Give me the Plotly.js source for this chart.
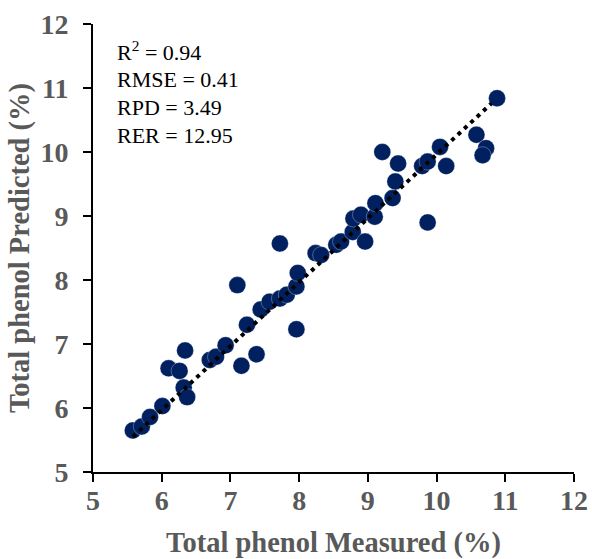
<!DOCTYPE html>
<html>
<head>
<meta charset="utf-8">
<script src="https://cdn.plot.ly/plotly-3.0.1.min.js"></script>
<style>
  html, body { margin: 0; padding: 0; background: #fff; }
  #chart { width: 592px; height: 559px; }
</style>
</head>
<body>
<div id="chart"></div>
<script>
// Measured (x) and predicted (y) total phenol (%)
const measured = [
  5.58, 5.71, 5.83, 6.01, 6.10, 6.26, 6.34, 6.32, 6.37, 6.70,
  6.79, 6.93, 7.10, 7.16, 7.24, 7.38, 7.44, 7.57, 7.72, 7.82,
  7.96, 7.98, 7.96, 7.72, 8.24, 8.32, 8.54, 8.61, 8.78, 8.79,
  8.90, 8.96, 9.10, 9.11, 9.36, 9.40, 9.44, 9.21, 9.79, 9.87,
  9.87, 10.05, 10.14, 10.58, 10.72, 10.67, 10.88
];
const predicted = [
  5.65, 5.71, 5.86, 6.03, 6.62, 6.58, 6.90, 6.32, 6.17, 6.75,
  6.80, 6.98, 7.92, 6.66, 7.30, 6.84, 7.54, 7.66, 7.71, 7.77,
  7.90, 8.11, 7.23, 8.57, 8.42, 8.39, 8.55, 8.60, 8.75, 8.96,
  9.02, 8.60, 8.99, 9.20, 9.28, 9.54, 9.82, 10.00, 9.78, 9.85,
  8.90, 10.08, 9.78, 10.27, 10.06, 9.95, 10.84
];
// Linear trendline end points
const trendX = [5.58, 10.80];
const trendY = [5.55, 10.76];
// Tick values
const tickVals = [5, 6, 7, 8, 9, 10, 11, 12];
// Statistics text
const statLabels = ["R<sup>2</sup> = 0.94", "RMSE = 0.41", "RPD = 3.49", "RER = 12.95"];

const serif = '"Liberation Serif", "Times New Roman", Times, serif';
const grey = '#595959';

const traces = [
  {
    x: measured, y: predicted, type: 'scatter', mode: 'markers',
    marker: { color: '#002060', size: 17, line: { color: 'rgba(255,255,255,0.6)', width: 0.5 } },
    hoverinfo: 'x+y'
  },
  {
    x: trendX, y: trendY, type: 'scatter', mode: 'lines',
    line: { color: '#000000', width: 4, dash: '4px,4.7px' },
    hoverinfo: 'skip'
  }
];

const statY = [0.94, 0.876, 0.813, 0.752];
const annotations = statLabels.map((t, i) => ({
  text: t, xref: 'paper', yref: 'paper', x: 0.046, y: statY[i],
  xanchor: 'left', yanchor: 'middle', showarrow: false,
  font: { family: serif, size: 22, color: '#000000' }
}));

const axisCommon = {
  range: [5, 12], tickvals: tickVals, ticktext: tickVals.map(String),
  showgrid: false, zeroline: false, showline: true,
  linecolor: '#000000', linewidth: 2,
  ticks: 'outside', ticklen: 8, tickwidth: 2, tickcolor: '#000000',
  tickfont: { family: serif, size: 28, color: grey, weight: 700 },
  fixedrange: true, automargin: false
};

const layout = {
  width: 592, height: 559,
  margin: { l: 93, r: 18, t: 24, b: 87 },
  paper_bgcolor: '#ffffff', plot_bgcolor: '#ffffff',
  showlegend: false,
  xaxis: Object.assign({}, axisCommon, {
    ticklabelstandoff: -6,
    title: { text: '<b>Total phenol Measured (%)</b>', standoff: 21,
      font: { family: serif, size: 28.5, color: grey } }
  }),
  yaxis: Object.assign({}, axisCommon, {
    ticklabelstandoff: 9,
    title: { text: '<b>Total phenol Predicted (%)</b>', standoff: 2,
      font: { family: serif, size: 28.5, color: grey } }
  }),
  annotations: annotations
};

Plotly.newPlot('chart', traces, layout, { displayModeBar: false, staticPlot: true });
</script>
</body>
</html>
